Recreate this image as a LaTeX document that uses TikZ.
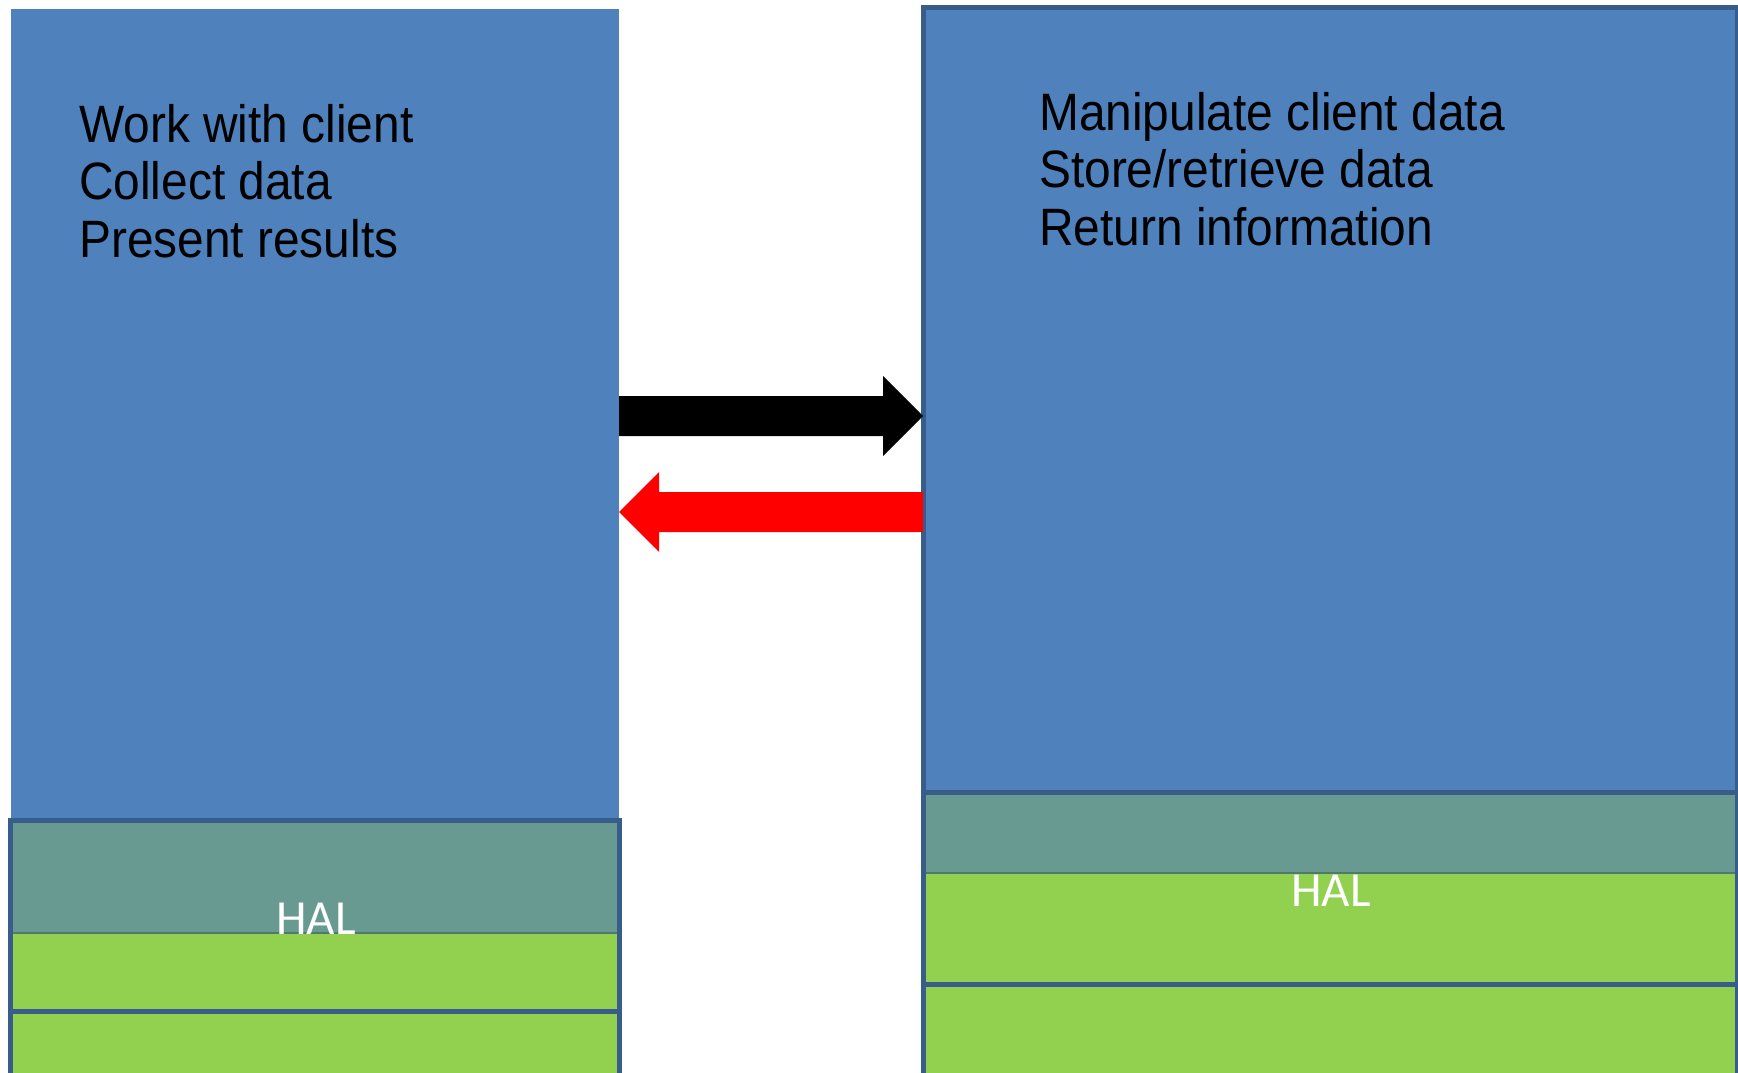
\documentclass[tikz,border=0pt]{standalone}
\usepackage{fontspec}
\setmainfont{Liberation Sans}
\newfontfamily\listfont[FakeStretch=0.91]{Liberation Sans}
\newfontfamily\halfont{Carlito}
\usetikzlibrary{calc}

\definecolor{tierblue}{HTML}{4F81BD}
\definecolor{tieredge}{HTML}{385D8A}
\definecolor{tiergreen}{HTML}{92D050}
\definecolor{halmix}{RGB}{104,154,146}
\definecolor{halseam}{RGB}{80,120,110}
\definecolor{replyred}{HTML}{FF0000}

\begin{document}
\begin{tikzpicture}[x=1pt,y=-1pt,
  tier/.style={rectangle, inner sep=0pt, outer sep=0pt, anchor=north west},
  edge/.style={draw=tieredge, line width=5pt},
  duty/.style={anchor=base west, inner sep=0pt, text=black,
    font=\listfont\fontsize{52.6}{57.5}\selectfont},
  hallabel/.style={anchor=base, inner sep=0pt, text=white,
    font=\halfont\fontsize{49}{50}\selectfont},
  seam/.style={draw=halseam, line width=2pt}]

\useasboundingbox (0,0) rectangle (1738,1073);
\fill[white] (0,0) rectangle (1738,1073);
\clip (0,0) rectangle (1738,1073);

% ---------- client side ----------
\node[tier, fill=tierblue, minimum width=608pt, minimum height=813pt] (client) at (11,9) {};
\node[tier, fill=tiergreen, minimum width=608.5pt, minimum height=191pt] (clientHAL) at (10.5,820.5) {};
\node[tier, fill=halmix, minimum width=608.5pt, minimum height=112.5pt] (clientHatch) at (10.5,820.5) {};
\draw[seam] (clientHatch.south west) -- (clientHatch.south east);
\draw[edge] (clientHAL.north west) rectangle (clientHAL.south east);
\node[tier, fill=tiergreen, minimum width=608.5pt, minimum height=80pt] (clientBase) at (10.5,1011.5) {};
\draw[edge] (clientBase.north west) rectangle (clientBase.south east);
\node[hallabel] (clientHALtext) at (316,934) {HAL};

\node[duty] (c1) at (79,142) {Work with client};
\node[duty] (c2) at (79,199.5) {Collect data};
\node[duty] (c3) at (79,257) {Present results};

% ---------- server side ----------
\node[tier, fill=tierblue, minimum width=814pt, minimum height=784.5pt] (server) at (923,7.5) {};
\draw[edge] (server.north west) rectangle (server.south east);
\node[tier, fill=tiergreen, minimum width=814pt, minimum height=192pt] (serverHAL) at (923,792) {};
\node[tier, fill=halmix, minimum width=814pt, minimum height=81pt] (serverHatch) at (923,792) {};
\draw[seam] (serverHatch.south west) -- (serverHatch.south east);
\draw[edge] (serverHAL.north west) rectangle (serverHAL.south east);
\node[tier, fill=tiergreen, minimum width=814pt, minimum height=100pt] (serverBase) at (923,984) {};
\draw[edge] (serverBase.north west) rectangle (serverBase.south east);
\node[hallabel] (serverHALtext) at (1331,906) {HAL};

\node[duty] (s1) at (1039,130) {Manipulate client data};
\node[duty] (s2) at (1039,187.5) {Store/retrieve data};
\node[duty] (s3) at (1039,245) {Return information};

% ---------- request and reply arrows ----------
\coordinate (reqFrom) at (client.east |- 0,416);
\coordinate (reqTo)   at (server.west |- 0,416);
\fill[black] ($(reqFrom)+(0,-20)$) -- ($(reqTo)+(-40,-20)$) -- ($(reqTo)+(-40,-40)$)
  -- (reqTo) -- ($(reqTo)+(-40,40)$) -- ($(reqTo)+(-40,20)$) -- ($(reqFrom)+(0,20)$) -- cycle;

\coordinate (repFrom) at (server.west |- 0,512);
\coordinate (repTo)   at (client.east |- 0,512);
\fill[replyred] ($(repFrom)+(0,-20)$) -- ($(repTo)+(40,-20)$) -- ($(repTo)+(40,-40)$)
  -- (repTo) -- ($(repTo)+(40,40)$) -- ($(repTo)+(40,20)$) -- ($(repFrom)+(0,20)$) -- cycle;
\end{tikzpicture}
\end{document}
